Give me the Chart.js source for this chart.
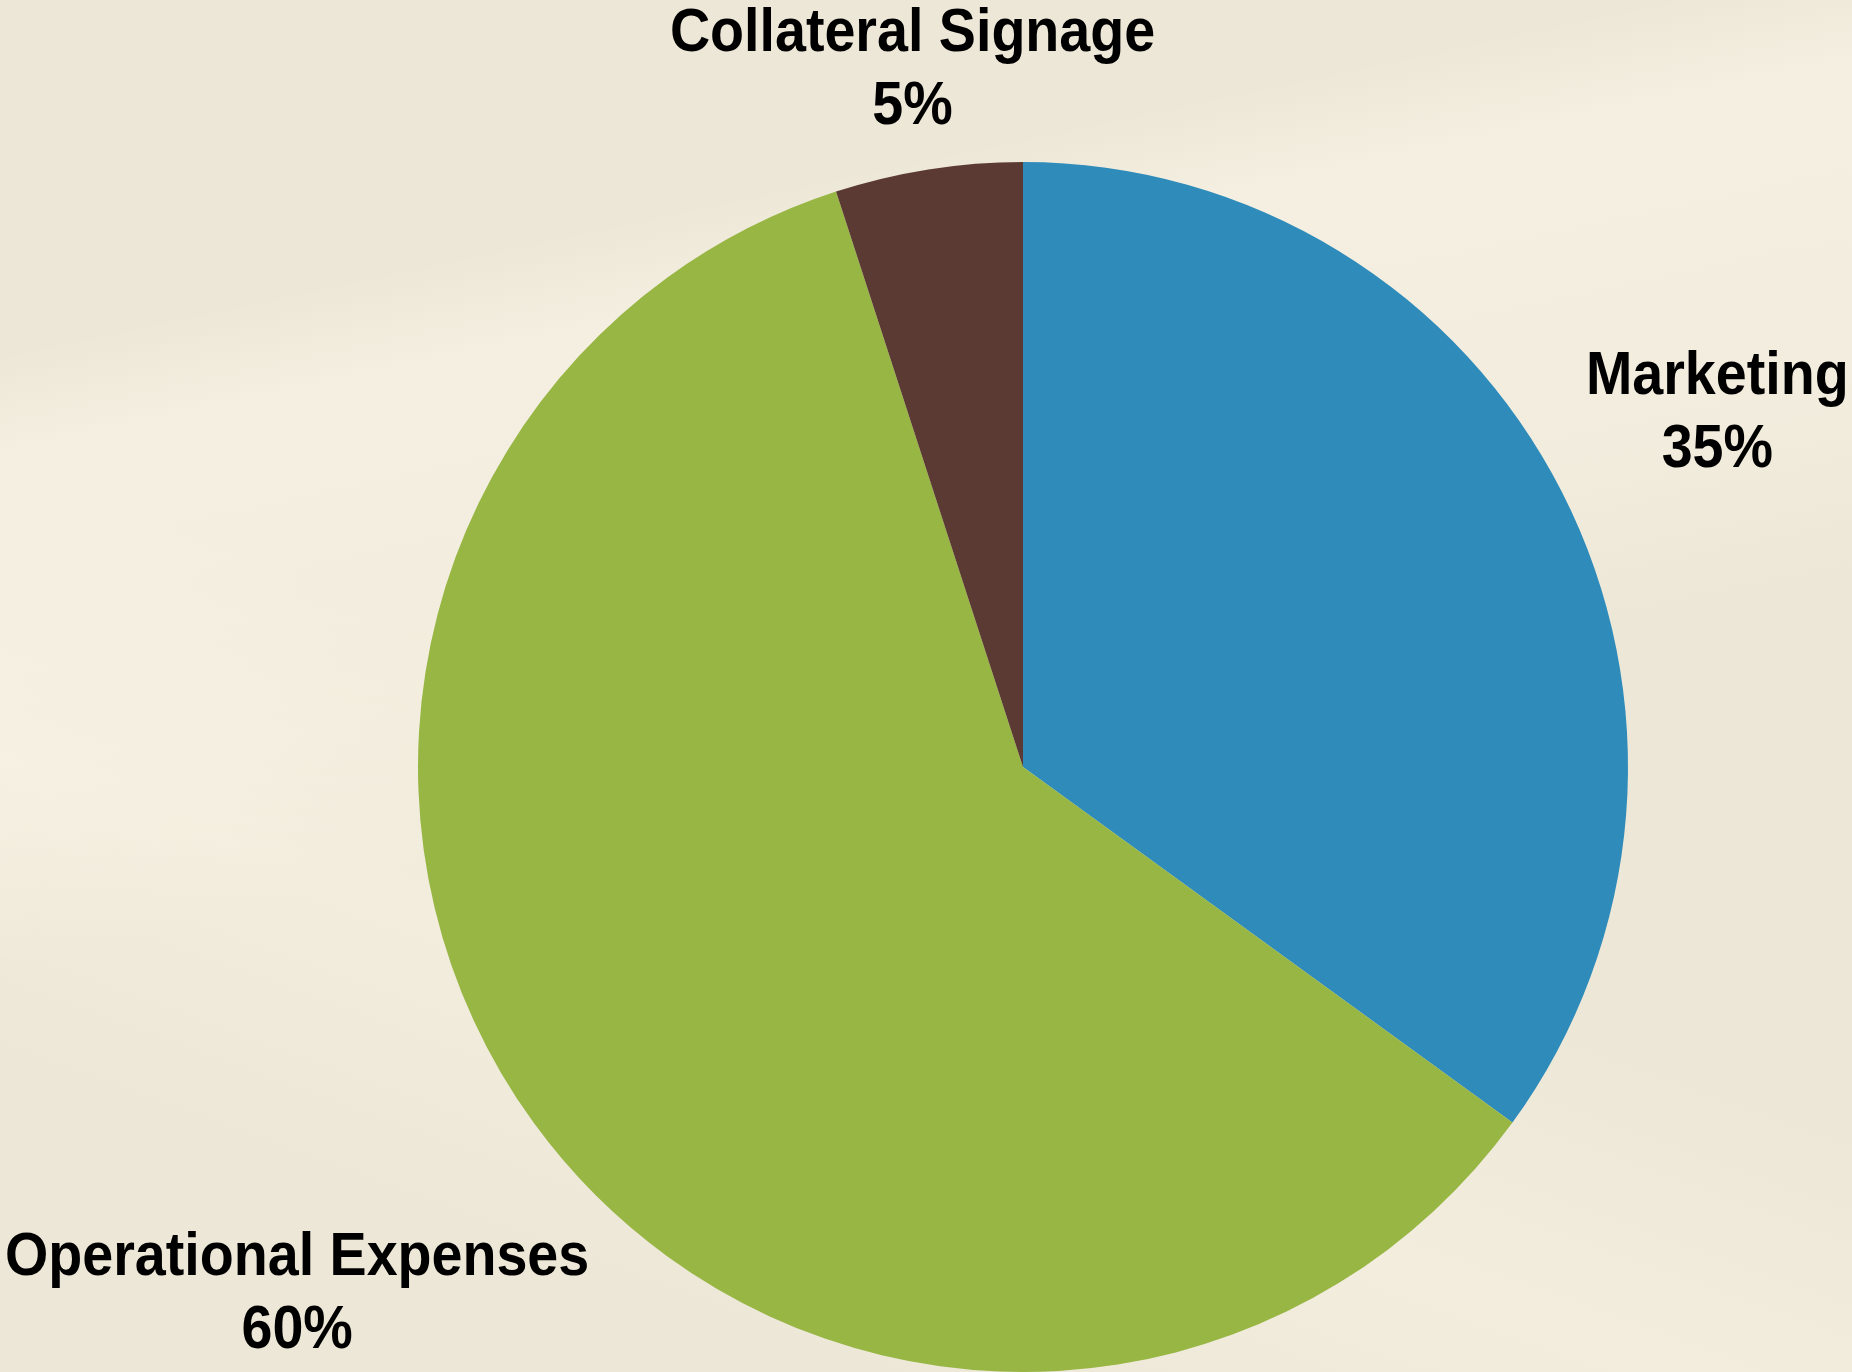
<!DOCTYPE html>
<html>
<head>
<meta charset="utf-8">
<script src="https://cdn.jsdelivr.net/npm/chart.js@4/dist/chart.umd.min.js"></script>
<style>
  html, body { margin: 0; padding: 0; }
  body {
    width: 1852px; height: 1372px; overflow: hidden;
    background:
      linear-gradient(168deg, rgba(255,255,255,0) 0%, rgba(255,255,255,0) 20%, rgba(250,246,232,0.55) 26%, rgba(250,246,232,0.35) 45%, rgba(255,255,255,0) 55%),
      linear-gradient(200deg, rgba(255,255,255,0) 55%, rgba(248,243,228,0.5) 70%, rgba(255,255,255,0) 85%),
      #ede7d7;
  }
  #wrap { position: absolute; left: 0; top: 0; width: 1852px; height: 1372px; }
</style>
</head>
<body>
<div id="wrap"><canvas id="c" width="1852" height="1372"></canvas></div>
<script>
const categories = ["Marketing", "Operational Expenses", "Collateral Signage"];
const values = [35, 60, 5];
const percentLabels = ["35%", "60%", "5%"];
const colors = ["#2E8BBA", "#98B644", "#5C3A34"];

const labelPlugin = {
  id: 'outsideLabels',
  afterDatasetsDraw(chart, args, opts) {
    const ctx = chart.ctx;
    const meta = chart.getDatasetMeta(0);
    meta.data.forEach((arc, i) => {
      const mid = (arc.startAngle + arc.endAngle) / 2;
      const r = arc.outerRadius * opts.radiusFactors[i];
      const cx = arc.x + Math.cos(mid) * r;
      const cy = arc.y + Math.sin(mid) * r;
      ctx.save();
      ctx.fillStyle = '#000';
      ctx.font = 'bold 62px "Liberation Sans", Arial, sans-serif';
      ctx.textAlign = 'center';
      ctx.textBaseline = 'middle';
      ctx.translate(cx, cy);
      ctx.scale(0.897, 1);
      ctx.fillText(chart.data.labels[i], 0, -36);
      ctx.fillText(opts.texts[i], 0, 37);
      ctx.restore();
    });
  }
};

new Chart(document.getElementById('c'), {
  type: 'pie',
  data: {
    labels: categories,
    datasets: [{
      data: values,
      backgroundColor: colors,
      borderWidth: 0
    }]
  },
  options: {
    responsive: false,
    animation: false,
    layout: { padding: { top: 162, bottom: 0, left: 418, right: 224 } },
    plugins: {
      legend: { display: false },
      tooltip: { enabled: false },
      outsideLabels: { radiusFactors: [1.288, 1.483, 1.167], texts: percentLabels }
    }
  },
  plugins: [labelPlugin]
});
</script>
</body>
</html>
